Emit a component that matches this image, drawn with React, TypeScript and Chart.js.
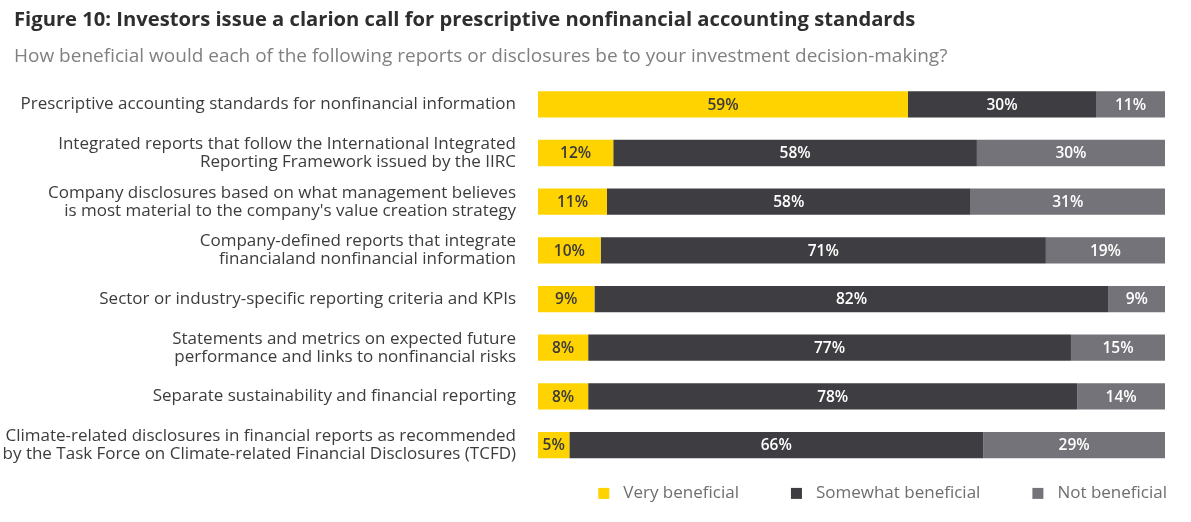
import React, { useEffect, useRef } from "react";
import { Chart, registerables } from "chart.js";

Chart.register(...registerables);

const titleText = "Figure 10: Investors issue a clarion call for prescriptive nonfinancial accounting standards";
const subtitleText = "How beneficial would each of the following reports or disclosures be to your investment decision-making?";

const categories: string[][] = [
  ["Prescriptive accounting standards for nonfinancial information"],
  ["Integrated reports that follow the International Integrated", "Reporting Framework issued by the IIRC"],
  ["Company disclosures based on what management believes", "is most material to the company's value creation strategy"],
  ["Company-defined reports that integrate", "financialand nonfinancial information"],
  ["Sector or industry-specific reporting criteria and KPIs"],
  ["Statements and metrics on expected future", "performance and links to nonfinancial risks"],
  ["Separate sustainability and financial reporting"],
  ["Climate-related disclosures in financial reports as recommended", "by the Task Force on Climate-related Financial Disclosures (TCFD)"],
];

const seriesNames = ["Very beneficial", "Somewhat beneficial", "Not beneficial"];
const veryBeneficial = [59, 12, 11, 10, 9, 8, 8, 5];
const somewhatBeneficial = [30, 58, 58, 71, 82, 77, 78, 66];
const notBeneficial = [11, 30, 31, 19, 9, 15, 14, 29];

const seriesColors = ["#FFD300", "#3E3E42", "#737379"];
const labelColors = ["#3A3A3A", "#FFFFFF", "#FFFFFF"];

const FONT = "'Open Sans', 'Noto Sans', sans-serif";

const headerPlugin = {
  id: "headerPlugin",
  afterDraw(chart: any) {
    const ctx = chart.ctx;
    ctx.save();
    ctx.textAlign = "left";
    ctx.textBaseline = "middle";
    ctx.fillStyle = "#2E2E2E";
    ctx.font = `bold 20.2px ${FONT}`;
    ctx.fillText(titleText, 14, 20);
    ctx.fillStyle = "#808080";
    ctx.font = `19px ${FONT}`;
    ctx.fillText(subtitleText, 14, 57);
    ctx.restore();
  },
};

const segmentLabels = {
  id: "segmentLabels",
  afterDatasetsDraw(chart: any) {
    const ctx = chart.ctx;
    ctx.save();
    ctx.font = `600 15.5px ${FONT}`;
    ctx.textAlign = "center";
    ctx.textBaseline = "middle";
    chart.data.datasets.forEach((ds: any, di: number) => {
      const meta = chart.getDatasetMeta(di);
      meta.data.forEach((bar: any, i: number) => {
        const v = ds.data[i];
        const cx = (bar.x + bar.base) / 2;
        ctx.fillStyle = labelColors[di];
        ctx.fillText(`${v}%`, cx, bar.y + 1);
      });
    });
    ctx.restore();
  },
};

const customLegend = {
  id: "customLegend",
  afterDraw(chart: any) {
    const ctx = chart.ctx;
    const area = chart.chartArea;
    const box = 11;
    const boxGap = 14;
    const itemGap = 52;
    ctx.save();
    ctx.font = `17px ${FONT}`;
    ctx.textBaseline = "middle";
    ctx.textAlign = "left";
    const widths = chart.data.datasets.map((ds: any) => box + boxGap + ctx.measureText(ds.label).width);
    const total = widths.reduce((a: number, b: number) => a + b, 0) + itemGap * (widths.length - 1);
    let x = area.right + 2 - total;
    const y = area.bottom + 24;
    chart.data.datasets.forEach((ds: any, i: number) => {
      ctx.fillStyle = ds.backgroundColor;
      ctx.fillRect(x, y - box / 2, box, box);
      ctx.fillStyle = "#6E6E6E";
      ctx.fillText(ds.label, x + box + boxGap, y);
      x += widths[i] + itemGap;
    });
    ctx.restore();
  },
};

export default function App() {
  const ref = useRef<HTMLCanvasElement | null>(null);

  useEffect(() => {
    document.body.style.margin = "0";
    const canvas = ref.current;
    if (!canvas) return;
    const chart = new Chart(canvas, {
      type: "bar",
      data: {
        labels: categories,
        datasets: [veryBeneficial, somewhatBeneficial, notBeneficial].map((d, i) => ({
          label: seriesNames[i],
          data: d,
          backgroundColor: seriesColors[i],
          borderWidth: 0,
          categoryPercentage: 1,
          barPercentage: 0.54,
        })),
      },
      options: {
        indexAxis: "y",
        animation: false,
        responsive: false,
        maintainAspectRatio: false,
        layout: { padding: { left: 0, right: 26, top: 80, bottom: 52.6 } },
        scales: {
          x: { stacked: true, min: 0, max: 100, display: false },
          y: {
            stacked: true,
            grid: { display: false, drawTicks: false },
            border: { display: false },
            ticks: {
              color: "#3C3C3C",
              font: { family: FONT, size: 17, lineHeight: 1.06 },
              padding: 22,
            },
            afterFit(scale: any) {
              scale.width = 538;
            },
          },
        },
        plugins: {
          legend: { display: false },
          tooltip: { enabled: false },
          title: { display: false },
        },
      },
      plugins: [headerPlugin, segmentLabels, customLegend],
    });
    return () => chart.destroy();
  }, []);

  return <canvas ref={ref} width={1191} height={522} style={{ display: "block" }} />;
}
